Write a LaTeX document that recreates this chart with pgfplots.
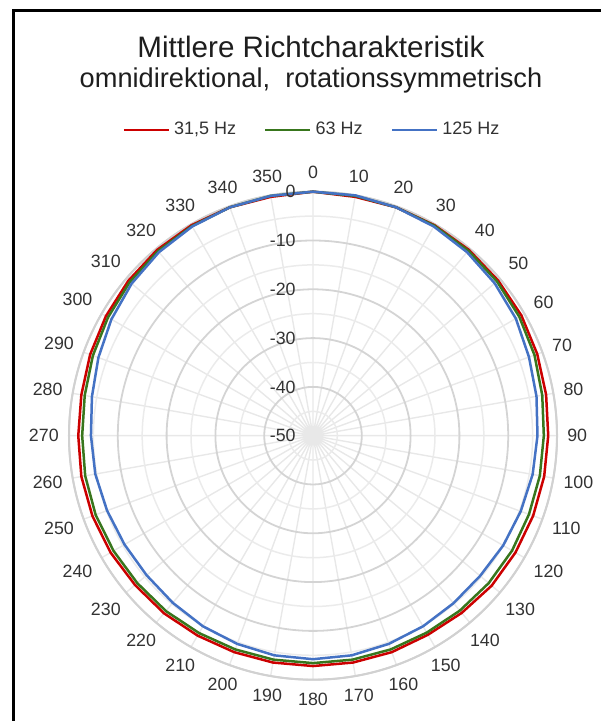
\documentclass[border=0pt]{standalone}
\usepackage{pgfplots}
\pgfplotsset{compat=1.18}
\usepackage{pgfplotstable}
\usepgfplotslibrary{polar}
\usepackage{fontspec}
\setmainfont{Liberation Sans}
\definecolor{cRed}{RGB}{204,0,0}
\definecolor{cGreen}{RGB}{56,118,29}
\definecolor{cBlue}{RGB}{68,114,196}
\definecolor{txt}{RGB}{50,50,50}
\definecolor{ttl}{RGB}{30,30,30}

\pgfplotstableread{
a r g b
0 0 0 0
10 -0.3 -0.1 0
20 -0.2 -0.2 -0.2
30 -0.2 -0.3 -0.5
40 -0.3 -0.5 -0.9
50 -0.5 -0.8 -1.4
60 -0.7 -1.2 -2.0
70 -1.1 -1.7 -2.9
80 -1.5 -2.3 -3.5
90 -1.8 -2.7 -4.0
100 -1.9 -2.8 -4.3
110 -2.0 -2.9 -4.7
120 -2.1 -2.9 -5.0
130 -2.2 -3.0 -5.3
140 -2.6 -3.2 -5.2
150 -2.9 -3.4 -4.9
160 -2.8 -3.4 -4.6
170 -2.8 -3.4 -4.3
180 -2.8 -3.4 -4.2
190 -2.8 -3.4 -4.3
200 -2.8 -3.4 -4.6
210 -2.7 -3.3 -4.9
220 -2.5 -3.1 -5.3
230 -2.4 -3.0 -5.5
240 -2.1 -2.8 -5.4
250 -1.9 -2.6 -5.1
260 -1.8 -2.6 -4.7
270 -1.9 -2.7 -4.5
280 -1.8 -2.5 -4.0
290 -1.4 -2.0 -3.2
300 -1.0 -1.5 -2.3
310 -0.6 -1.0 -1.5
320 -0.3 -0.6 -0.9
330 -0.2 -0.4 -0.5
340 -0.2 -0.2 -0.2
350 -0.3 -0.1 -0.1
360 0 0 0
}\data

\tikzset{albl/.style={font=\fontsize{8.9}{10}\selectfont, text=txt, text opacity=1, inner xsep=1.3pt, inner ysep=2.8pt}}

\begin{document}
\begin{tikzpicture}
\begin{polaraxis}[
  at={(156.5pt,142.65pt)}, anchor=center,
  width=244pt, height=244pt, scale only axis,
  xmin=0, xmax=360, ymin=0, ymax=50,
  xtick={0,10,...,350}, xticklabels={},
  ytick={0,10,...,50}, yticklabels={},
  minor ytick={5,15,...,45},
  tick label style={text opacity=0},
  xmajorgrids, ymajorgrids, yminorgrids,
  major x grid style={black!9, line width=0.7pt},
  major y grid style={black!17, line width=0.9pt},
  minor y grid style={black!8, line width=0.75pt},
  axis line style={black!18, line width=1pt},
  y axis line style={draw=none},
  major tick length=0pt, minor tick length=0pt,
  clip=false,
  legend columns=3,
  legend style={at={(0.5,1.126)}, anchor=center, draw=none, fill=none,
    font=\fontsize{9}{11}\selectfont, text=txt,
    /tikz/every even column/.append style={column sep=12pt}},
  legend image code/.code={\draw[#1] (0pt,0pt) -- (22.5pt,0pt);},
]
\addplot[cRed, line width=1.25pt, line join=round] table[x expr={90-\thisrow{a}}, y expr={\thisrow{r}+50}] {\data};
\addlegendentry{31,5 Hz}
\addplot[cGreen, line width=1.25pt, line join=round] table[x expr={90-\thisrow{a}}, y expr={\thisrow{g}+50}] {\data};
\addlegendentry{63 Hz}
\addplot[cBlue, line width=1.25pt, line join=round] table[x expr={90-\thisrow{a}}, y expr={\thisrow{b}+50}] {\data};
\addlegendentry{125 Hz}
\pgfplotsinvokeforeach{0,10,...,350}{
  \pgfmathtruncatemacro\angx{90-#1}
  \pgfmathtruncatemacro\anc{mod(630-#1,360)}
  \edef\tmp{\noexpand\node[albl, anchor=\anc] at (axis cs:\angx,51.5) {#1};}
  \tmp
}
\pgfplotsinvokeforeach{0,10,...,50}{
  \pgfmathtruncatemacro\lab{#1-50}
  \edef\tmp{\noexpand\node[albl, anchor=east, inner xsep=1pt, xshift=-7.5pt] at (axis cs:90,#1) {\lab};}
  \tmp
}
\end{polaraxis}
\node[anchor=base, text=ttl, font=\fontsize{14.8}{17}\selectfont] at (155.5pt,331.7pt) {Mittlere Richtcharakteristik};
\node[anchor=base, text=ttl, font=\fontsize{13.6}{16}\selectfont] at (155.5pt,316.5pt) {omnidirektional,\ \ rotationssymmetrisch};
\draw[black, line width=1.5pt] (6.75pt,-10pt) -- (6.75pt,355pt) -- (310pt,355pt);
\pgfresetboundingbox
\path[use as bounding box] (0pt,0pt) rectangle (300pt,360.5pt);
\end{tikzpicture}
\end{document}
